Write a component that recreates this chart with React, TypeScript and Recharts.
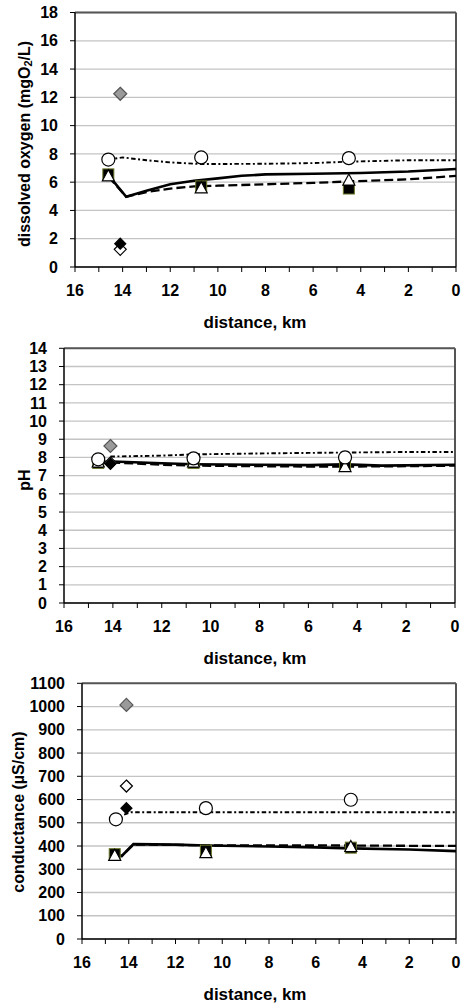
import React from 'react';
import { ComposedChart, XAxis, YAxis, CartesianGrid, Line, Scatter, ReferenceLine } from 'recharts';

const FONT = '"Liberation Sans", Arial, Helvetica, sans-serif';

// ---------- shared x axis ----------
const xTicks = [0, 1, 2, 3, 4, 5, 6, 7, 8, 9, 10, 11, 12, 13, 14, 15, 16];

// ---------- dissolved oxygen ----------
const doTicks = [0, 2, 4, 6, 8, 10, 12, 14, 16, 18];
const doSolid = [
  { x: 14.6, y: 6.5 }, { x: 13.85, y: 4.97 }, { x: 13, y: 5.4 }, { x: 12, y: 5.85 },
  { x: 11, y: 6.1 }, { x: 10, y: 6.27 }, { x: 9, y: 6.45 }, { x: 8, y: 6.55 },
  { x: 6, y: 6.6 }, { x: 4, y: 6.65 }, { x: 2, y: 6.75 }, { x: 0, y: 6.93 },
];
const doDashed = [
  { x: 14.6, y: 6.4 }, { x: 13.85, y: 4.97 }, { x: 13, y: 5.3 }, { x: 12, y: 5.55 },
  { x: 11, y: 5.7 }, { x: 10, y: 5.75 }, { x: 8, y: 5.85 }, { x: 6, y: 5.95 },
  { x: 4.5, y: 6.05 }, { x: 2, y: 6.2 }, { x: 0, y: 6.45 },
];
const doDotted = [
  { x: 14.6, y: 7.6 }, { x: 14, y: 7.75 }, { x: 13, y: 7.55 }, { x: 12, y: 7.4 },
  { x: 10.7, y: 7.28 }, { x: 8, y: 7.3 }, { x: 6, y: 7.35 }, { x: 4.5, y: 7.45 },
  { x: 2, y: 7.55 }, { x: 0, y: 7.55 },
];
const doCircles = [{ x: 14.6, y: 7.6 }, { x: 10.7, y: 7.75 }, { x: 4.5, y: 7.7 }];
const doSquares = [{ x: 14.6, y: 6.55 }, { x: 10.7, y: 5.7 }, { x: 4.5, y: 5.55 }];
const doTriangles = [{ x: 14.6, y: 6.45 }, { x: 10.7, y: 5.6 }, { x: 4.5, y: 6.15 }];
const doGreyDiamond = [{ x: 14.1, y: 12.25 }];
const doBlackDiamond = [{ x: 14.1, y: 1.65 }];
const doOpenDiamond = [{ x: 14.1, y: 1.25 }];

// ---------- pH ----------
const phTicks = [0, 1, 2, 3, 4, 5, 6, 7, 8, 9, 10, 11, 12, 13, 14];
const phSolid = [
  { x: 14.6, y: 7.75 }, { x: 14, y: 7.78 }, { x: 12, y: 7.68 }, { x: 10.7, y: 7.63 },
  { x: 8, y: 7.6 }, { x: 6, y: 7.58 }, { x: 4.5, y: 7.62 }, { x: 3, y: 7.55 }, { x: 0, y: 7.6 },
];
const phDashed = [
  { x: 14.6, y: 7.7 }, { x: 14, y: 7.72 }, { x: 12, y: 7.6 }, { x: 10.7, y: 7.55 },
  { x: 8, y: 7.52 }, { x: 6, y: 7.5 }, { x: 4.5, y: 7.5 }, { x: 2, y: 7.52 }, { x: 0, y: 7.55 },
];
const phDotted = [
  { x: 14.1, y: 8.05 }, { x: 12, y: 8.1 }, { x: 10.7, y: 8.17 }, { x: 8, y: 8.22 },
  { x: 6, y: 8.25 }, { x: 4.5, y: 8.27 }, { x: 2, y: 8.3 }, { x: 0, y: 8.3 },
];
const phCircles = [{ x: 14.6, y: 7.9 }, { x: 10.7, y: 7.95 }, { x: 4.5, y: 8.0 }];
const phSquares = [{ x: 14.6, y: 7.7 }, { x: 10.7, y: 7.7 }, { x: 4.5, y: 7.6 }];
const phTriangles = [{ x: 14.6, y: 7.75 }, { x: 10.7, y: 7.75 }, { x: 4.5, y: 7.5 }];
const phGreyDiamond = [{ x: 14.1, y: 8.63 }];
const phBlackDiamond = [{ x: 14.1, y: 7.65 }];
const phOpenDiamond = [{ x: 14.1, y: 7.7 }];

// ---------- conductance ----------
const coTicks = [0, 100, 200, 300, 400, 500, 600, 700, 800, 900, 1000, 1100];
const coSolid = [
  { x: 14.6, y: 362 }, { x: 14.3, y: 357 }, { x: 13.8, y: 408 }, { x: 12, y: 406 },
  { x: 10.7, y: 402 }, { x: 8, y: 398 }, { x: 6, y: 394 }, { x: 4.5, y: 390 },
  { x: 2, y: 385 }, { x: 0, y: 378 },
];
const coDashed = [
  { x: 14.6, y: 362 }, { x: 14.3, y: 357 }, { x: 13.8, y: 406 }, { x: 12, y: 405 },
  { x: 10.7, y: 403 }, { x: 8, y: 403 }, { x: 6, y: 403 }, { x: 4.5, y: 402 },
  { x: 2, y: 401 }, { x: 0, y: 401 },
];
const coDotted = [{ x: 14.2, y: 535 }, { x: 13.9, y: 545 }, { x: 10, y: 545 }, { x: 0, y: 545 }];
const coCircles = [{ x: 14.55, y: 515 }, { x: 10.7, y: 563 }, { x: 4.5, y: 599 }];
const coSquares = [{ x: 14.6, y: 365 }, { x: 10.7, y: 380 }, { x: 4.5, y: 393 }];
const coTriangles = [{ x: 14.6, y: 360 }, { x: 10.7, y: 372 }, { x: 4.5, y: 398 }];
const coGreyDiamond = [{ x: 14.1, y: 1007 }];
const coBlackDiamond = [{ x: 14.1, y: 563 }];
const coOpenDiamond = [{ x: 14.1, y: 658 }];

// ---------- marker shapes ----------
const CircleShape = (p: any) =>
  p.cx == null ? null : <circle cx={p.cx} cy={p.cy} r={6.5} fill="#fff" stroke="#000" strokeWidth={1.2} />;
const SquareShape = (p: any) =>
  p.cx == null ? null : (
    <rect x={p.cx - 5.5} y={p.cy - 5.5} width={11} height={11} fill="#000" stroke="#6b7a2a" strokeWidth={1} />
  );
const TriangleShape = (p: any) =>
  p.cx == null ? null : (
    <polygon
      points={`${p.cx},${p.cy - 6} ${p.cx + 6},${p.cy + 5} ${p.cx - 6},${p.cy + 5}`}
      fill="#fff"
      stroke="#000"
      strokeWidth={1.2}
    />
  );
const diamond = (fill: string, stroke: string, s: number) => (p: any) =>
  p.cx == null ? null : (
    <polygon
      points={`${p.cx},${p.cy - s} ${p.cx + s},${p.cy} ${p.cx},${p.cy + s} ${p.cx - s},${p.cy}`}
      fill={fill}
      stroke={stroke}
      strokeWidth={1.2}
    />
  );
const GreyDiamond = diamond('#9a9a9a', '#555', 6.5);
const BlackDiamond = diamond('#000', '#000', 5.5);
const OpenDiamond = diamond('#fff', '#000', 6);

type Pt = { x: number; y: number };
type PanelProps = {
  top: number;
  height: number;
  plotTop: number;
  plotBottom: number;
  plotLeft: number;
  plotRight: number;
  yMax: number;
  yTicks: number[];
  yLabel: React.ReactNode;
  yLabelX: number;
  yLabelY: number;
  solid: Pt[];
  dashed: Pt[];
  dotted: Pt[];
  circles: Pt[];
  squares: Pt[];
  triangles: Pt[];
  grey: Pt[];
  black: Pt[];
  open: Pt[];
};

const tickStyle = { fill: '#000', fontSize: 16, fontWeight: 'bold', fontFamily: FONT };

function Panel(props: PanelProps) {
  const {
    top, height, plotTop, plotBottom, plotLeft, plotRight, yMax, yTicks, yLabel, yLabelX, yLabelY,
  } = props;
  const xAxisHeight = top + height - plotBottom;
  const relLabelY = yLabelY - top;
  return (
    <div style={{ position: 'absolute', left: 0, top, width: 462, height }}>
      <ComposedChart
        width={462}
        height={height}
        margin={{ top: plotTop - top, right: 462 - plotRight, left: 0, bottom: 0 }}
      >
        <CartesianGrid vertical={false} stroke="#c4c4c4" strokeWidth={1.3} />
        <XAxis
          type="number"
          dataKey="x"
          domain={[0, 16]}
          reversed
          ticks={xTicks}
          interval={0}
          tickFormatter={(v: number) => (v % 2 === 0 ? String(v) : '')}
          height={xAxisHeight}
          tickSize={5}
          tickMargin={13}
          tick={tickStyle}
          axisLine={{ stroke: '#000', strokeWidth: 1.5 }}
          tickLine={{ stroke: '#000', strokeWidth: 1 }}
          label={(lp: any) => {
            const vb = lp.viewBox || {};
            return (
              <text
                x={255}
                y={(vb.y ?? plotBottom - top) + 55}
                textAnchor="middle"
                dominantBaseline="central"
                fontFamily={FONT}
                fontWeight="bold"
                fontSize={17}
                fill="#000"
              >
                distance, km
              </text>
            );
          }}
        />
        <YAxis
          type="number"
          dataKey="y"
          domain={[0, yMax]}
          ticks={yTicks}
          interval={0}
          width={plotLeft}
          tickSize={5}
          tickMargin={12}
          tick={tickStyle}
          axisLine={{ stroke: '#000', strokeWidth: 1.5 }}
          tickLine={{ stroke: '#000', strokeWidth: 1 }}
          label={() => (
            <text
              transform={`translate(${yLabelX},${relLabelY}) rotate(-90)`}
              textAnchor="middle"
              dominantBaseline="central"
              fontFamily={FONT}
              fontWeight="bold"
              fontSize={16}
              fill="#000"
            >
              {yLabel}
            </text>
          )}
        />
        <ReferenceLine y={yMax} stroke="#555" strokeWidth={2} />
        <ReferenceLine x={0} stroke="#555" strokeWidth={2} />
        <Line data={props.dotted} dataKey="y" type="linear" stroke="#000" strokeWidth={1.9}
          strokeDasharray="4.5 2.5 2 2.5" dot={false} activeDot={false} isAnimationActive={false} />
        <Line data={props.dashed} dataKey="y" type="linear" stroke="#000" strokeWidth={2.3}
          strokeDasharray="9 4" dot={false} activeDot={false} isAnimationActive={false} />
        <Line data={props.solid} dataKey="y" type="linear" stroke="#000" strokeWidth={2.6}
          dot={false} activeDot={false} isAnimationActive={false} />
        <Scatter data={props.squares} dataKey="y" shape={SquareShape} isAnimationActive={false} />
        <Scatter data={props.triangles} dataKey="y" shape={TriangleShape} isAnimationActive={false} />
        <Scatter data={props.circles} dataKey="y" shape={CircleShape} isAnimationActive={false} />
        <Scatter data={props.open} dataKey="y" shape={OpenDiamond} isAnimationActive={false} />
        <Scatter data={props.black} dataKey="y" shape={BlackDiamond} isAnimationActive={false} />
        <Scatter data={props.grey} dataKey="y" shape={GreyDiamond} isAnimationActive={false} />
      </ComposedChart>
    </div>
  );
}

export default function App() {
  return (
    <div style={{ position: 'absolute', left: 0, top: 0, width: 462, height: 1006, background: '#fff' }}>
      <Panel
        top={0}
        height={340}
        plotTop={12.5}
        plotBottom={267}
        plotLeft={75}
        plotRight={456}
        yMax={18}
        yTicks={doTicks}
        yLabel={
          <>
            <tspan>dissolved oxygen (mgO</tspan>
            <tspan fontSize={11} dy={4}>2</tspan>
            <tspan dy={-4}>/L)</tspan>
          </>
        }
        yLabelX={24}
        yLabelY={144}
        solid={doSolid}
        dashed={doDashed}
        dotted={doDotted}
        circles={doCircles}
        squares={doSquares}
        triangles={doTriangles}
        grey={doGreyDiamond}
        black={doBlackDiamond}
        open={doOpenDiamond}
      />
      <Panel
        top={340}
        height={330}
        plotTop={348.3}
        plotBottom={603}
        plotLeft={64}
        plotRight={455}
        yMax={14}
        yTicks={phTicks}
        yLabel="pH"
        yLabelX={24}
        yLabelY={480}
        solid={phSolid}
        dashed={phDashed}
        dotted={phDotted}
        circles={phCircles}
        squares={phSquares}
        triangles={phTriangles}
        grey={phGreyDiamond}
        black={phBlackDiamond}
        open={phOpenDiamond}
      />
      <Panel
        top={670}
        height={336}
        plotTop={683.3}
        plotBottom={939}
        plotLeft={82}
        plotRight={456}
        yMax={1100}
        yTicks={coTicks}
        yLabel="conductance (µS/cm)"
        yLabelX={18}
        yLabelY={812}
        solid={coSolid}
        dashed={coDashed}
        dotted={coDotted}
        circles={coCircles}
        squares={coSquares}
        triangles={coTriangles}
        grey={coGreyDiamond}
        black={coBlackDiamond}
        open={coOpenDiamond}
      />
    </div>
  );
}
